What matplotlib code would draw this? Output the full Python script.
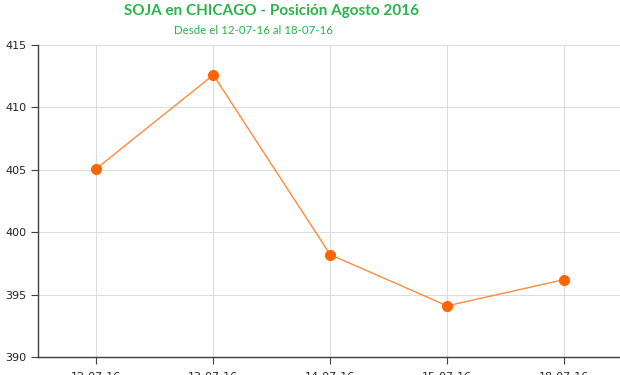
import matplotlib
matplotlib.use("Agg")
import matplotlib.pyplot as plt

dates = ["12-07-16", "13-07-16", "14-07-16", "15-07-16", "18-07-16"]
prices = [405.1, 412.6, 398.2, 394.1, 396.2]
yticks = [390, 395, 400, 405, 410, 415]

green = "#2bb34a"
orange = "#ff6600"

fig = plt.figure(figsize=(6.2, 3.75), dpi=100)
ax = fig.add_axes([38/620, 18/375, 584.5/620, 312/375])
x = list(range(len(dates)))
ax.plot(x, prices, color="#ff8a3d", linewidth=1.0, zorder=3)
ax.plot(x, prices, "o", color=orange, markersize=7, zorder=4)
ax.set_xlim(-0.5, len(dates) - 0.5)
ax.set_ylim(390, 415)
ax.set_yticks(yticks)
ax.set_xticks(x)
ax.set_xticklabels(dates)
ax.grid(True, color="#dcdcdc", linewidth=0.8)
ax.set_axisbelow(True)
for s in ["top", "right"]:
    ax.spines[s].set_visible(False)
for s in ["left", "bottom"]:
    ax.spines[s].set_color("#404040")
    ax.spines[s].set_linewidth(1.0)
ax.tick_params(axis="both", colors="#404040", labelcolor="#222222", labelsize=8, length=5, width=0.8)
ax.tick_params(axis="x", pad=6)

fig.text(271/620, 1 - 11/375, "SOJA en CHICAGO - Posición Agosto 2016", ha="center", va="center",
         color=green, fontsize=11, fontweight="bold", family="Lato")
fig.text(253/620, 1 - 30/375, "Desde el 12-07-16 al 18-07-16", ha="center", va="center",
         color=green, fontsize=8.3, family="Lato")

fig.savefig("out.png", dpi=100)
